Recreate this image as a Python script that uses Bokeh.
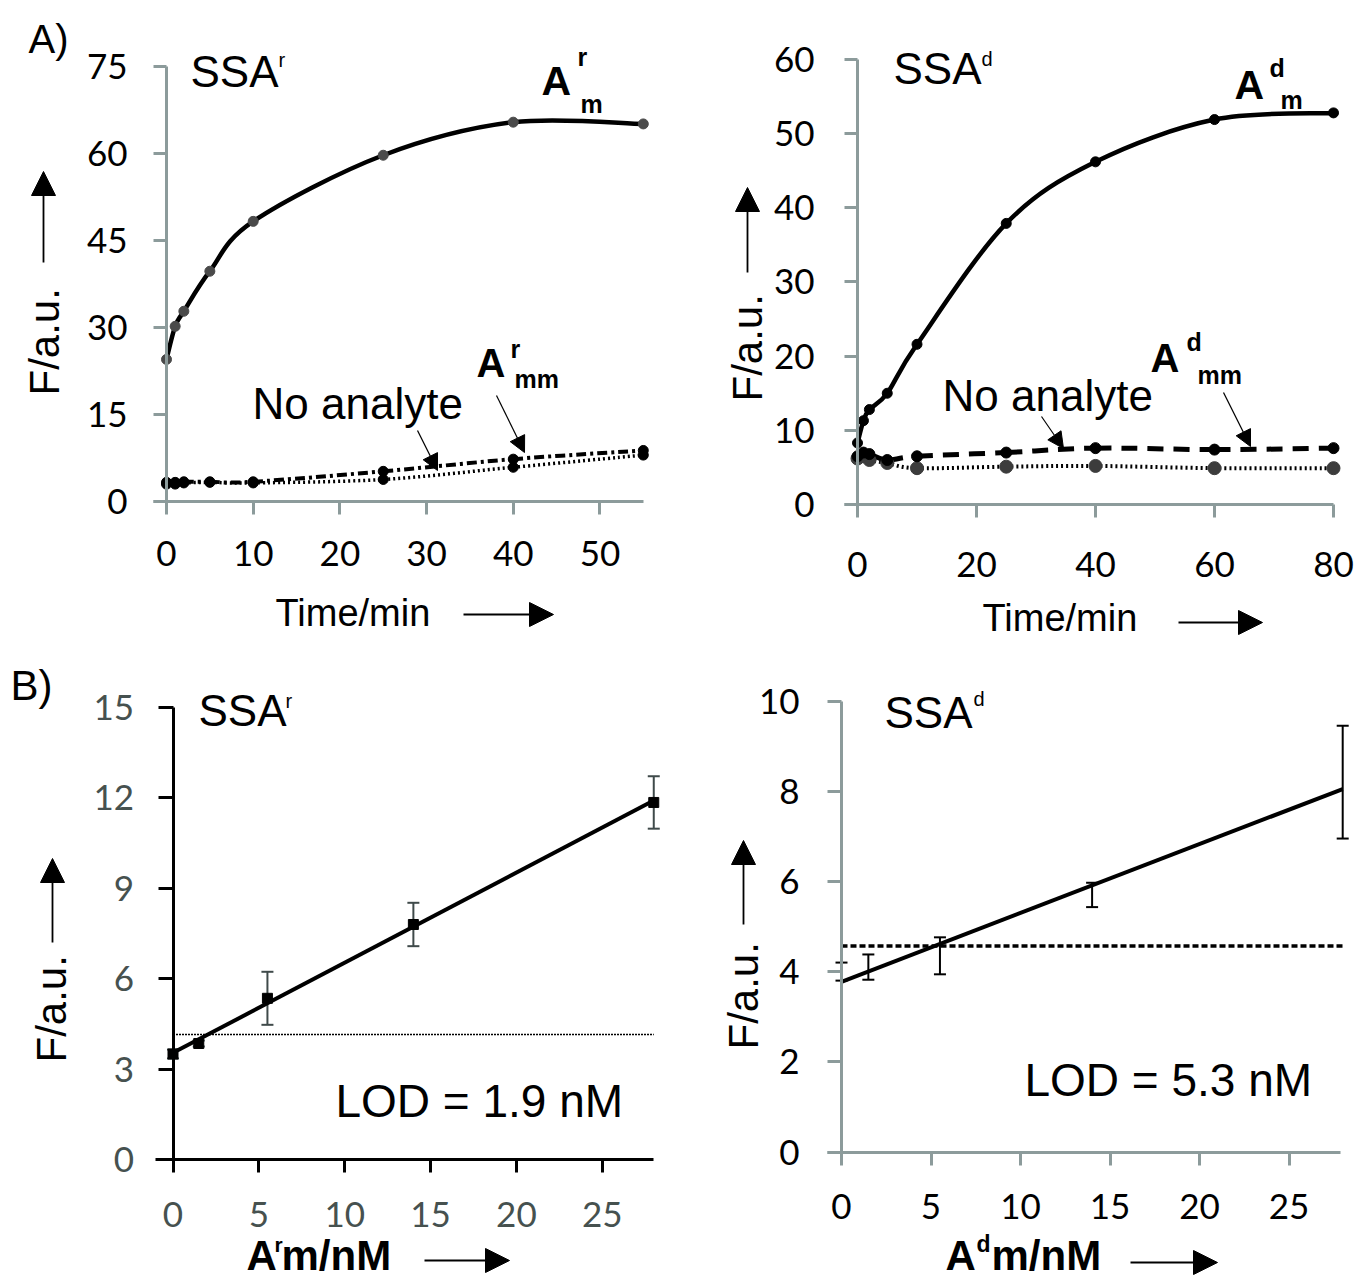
import numpy as np
from bokeh.plotting import figure
from bokeh.layouts import column, row
from bokeh.models import Label, Arrow, NormalHead, TeeHead, Range1d, Whisker, ColumnDataSource
from bokeh.embed import file_html
from bokeh.resources import INLINE

# ---------------- data ----------------
time_r = [0, 1, 2, 5, 10, 25, 40, 55]
am_r = [24.5, 30.2, 32.8, 39.7, 48.3, 59.7, 65.4, 65.1]
amm_r = [3.3, 3.3, 3.4, 3.4, 3.4, 5.2, 7.3, 8.8]
noan_r = [3.0, 3.0, 3.2, 3.3, 3.2, 3.8, 5.9, 8.0]

time_d = [0, 1, 2, 5, 10, 25, 40, 60, 80]
am_d = [8.3, 11.3, 12.8, 15.0, 21.6, 37.9, 46.2, 51.9, 52.8]
amm_d = [6.5, 7.0, 6.8, 6.0, 6.5, 7.0, 7.6, 7.4, 7.6]
noan_d = [6.2, 6.5, 6.0, 5.6, 4.9, 5.1, 5.2, 4.9, 4.9]

conc = [0, 1.5, 5.5, 14, 28]
f_r = [3.5, 3.85, 5.35, 7.8, 11.85]
err_r = [0.15, 0.1, 0.88, 0.72, 0.87]
lod_r = 4.15
f_d = [4.0, 4.1, 4.35, 5.7, 8.2]
err_d = [0.2, 0.28, 0.41, 0.27, 1.25]
lod_d = 4.57

ticks_tl_x = [0, 10, 20, 30, 40, 50]
ticks_tl_y = [0, 15, 30, 45, 60, 75]
ticks_tr_x = [0, 20, 40, 60, 80]
ticks_tr_y = [0, 10, 20, 30, 40, 50, 60]
ticks_b_x = [0, 5, 10, 15, 20, 25]
ticks_bl_y = [0, 3, 6, 9, 12, 15]
ticks_br_y = [0, 2, 4, 6, 8, 10]

GRAY = "#8c9b9b"
TXT = "Liberation Sans"
NUM = "Lato"
BASE_SHIFT = 0.36   # rendered baseline sits this fraction of the font size lower


class Panel:
    """A figure whose frame fills its whole canvas; (X0, Y0) is where data (0, 0)
    sits on the page, kx / ky are pixels per data unit."""

    def __init__(self, ox, oy, W, H, X0, Y0, kx, ky):
        self.kx, self.ky = kx, ky
        xs = (ox - X0) / kx
        xe = (ox + W - X0) / kx
        ye = (Y0 - oy) / ky
        ys = (Y0 - (oy + H)) / ky
        self.ox, self.oy, self.xs, self.ye = ox, oy, xs, ye
        self.p = figure(x_range=Range1d(xs, xe), y_range=Range1d(ys, ye),
                        frame_width=W, frame_height=H,
                        min_border_left=0, min_border_right=0,
                        min_border_top=0, min_border_bottom=0,
                        output_backend="svg", toolbar_location=None)
        p = self.p
        p.outline_line_color = None
        p.grid.visible = False
        p.background_fill_color = "white"
        p.border_fill_color = "white"

    def dx(self, px):
        return self.xs + (px - self.ox) / self.kx

    def dy(self, py):
        return self.ye - (py - self.oy) / self.ky

    def text(self, px, py, s, size, bold=False, font=TXT, vertical=False):
        if vertical:
            px = px - BASE_SHIFT * size
        else:
            py = py - BASE_SHIFT * size
        self.p.add_layout(Label(x=self.dx(px), y=self.dy(py), text=s, text_font=font,
                                text_font_size=f"{size}px",
                                text_font_style="bold" if bold else "normal",
                                text_color="black", text_align="left",
                                text_baseline="alphabetic",
                                angle=np.pi / 2 if vertical else 0.0))

    def arrow(self, x0, y0, x1, y1, head=16, lw=1.2):
        self.p.add_layout(Arrow(x_start=self.dx(x0), y_start=self.dy(y0),
                                x_end=self.dx(x1), y_end=self.dy(y1),
                                line_width=lw, line_color="black",
                                end=NormalHead(size=head, fill_color="black",
                                               line_color="black", line_width=1)))

    def axes(self, xt, yt, xbounds, axis_color, label_color, xstand, ystand, ytick):
        p = self.p
        p.xaxis.ticker = xt
        p.yaxis.ticker = yt
        p.xaxis.fixed_location = 0
        p.yaxis.fixed_location = 0
        p.xaxis.bounds = xbounds
        p.yaxis.bounds = (min(yt), max(yt))
        for ax in (p.xaxis[0], p.yaxis[0]):
            ax.axis_line_color = axis_color
            ax.axis_line_width = 3
            ax.major_tick_line_color = axis_color
            ax.major_tick_line_width = 3
            ax.major_tick_in = 0
            ax.minor_tick_line_color = None
            ax.major_label_text_font = NUM
            ax.major_label_text_font_size = "35px"
            ax.major_label_text_color = label_color
        p.xaxis.major_tick_out = 13
        p.yaxis.major_tick_out = ytick
        p.xaxis.major_label_standoff = xstand
        p.yaxis.major_label_standoff = ystand


def smooth(p, x, y, **kw):
    x = np.asarray(x, float)
    y = np.asarray(y, float)
    n = len(x)
    x0, y0, x1, y1, cx0, cy0, cx1, cy1 = [], [], [], [], [], [], [], []
    for i in range(n - 1):
        im = max(i - 1, 0)
        ip = min(i + 2, n - 1)
        x0.append(x[i]); y0.append(y[i]); x1.append(x[i + 1]); y1.append(y[i + 1])
        cx0.append(x[i] + (x[i + 1] - x[im]) / 6.0)
        cy0.append(y[i] + (y[i + 1] - y[im]) / 6.0)
        cx1.append(x[i + 1] - (x[ip] - x[i]) / 6.0)
        cy1.append(y[i + 1] - (y[ip] - y[i]) / 6.0)
    p.bezier(x0=x0, y0=y0, x1=x1, y1=y1, cx0=cx0, cy0=cy0, cx1=cx1, cy1=cy1, **kw)


# ---------------- top-left: SSA^r kinetics ----------------
tl = Panel(0, 0, 680, 640, 166, 501, 8.669, 5.8)
p = tl.p
tl.axes(ticks_tl_x, ticks_tl_y, (-1.5, 55), GRAY, "black", 26, 26, 13)
smooth(p, time_r, noan_r, line_color="black", line_width=3.5, line_dash="2 3")
smooth(p, time_r, amm_r, line_color="black", line_width=4, line_dash="10 4 3 4")
p.scatter(time_r, noan_r, size=10, color="black")
p.scatter(time_r, amm_r, size=10, color="black")
smooth(p, time_r, am_r, line_color="black", line_width=4.5)
p.scatter(time_r, am_r, size=10, color="#4a4a4a")
tl.text(28, 53, "A)", 40)
tl.text(190, 87, "SSA", 44)
tl.text(278, 67, "r", 20)
tl.text(541, 95, "A", 41, bold=True)
tl.text(577, 65, "r", 25, bold=True)
tl.text(580, 112, "m", 25, bold=True)
tl.text(252, 419, "No analyte", 44)
tl.text(476, 377, "A", 40, bold=True)
tl.text(510, 357, "r", 25, bold=True)
tl.text(514, 387, "mm", 25, bold=True)
tl.arrow(417, 430, 437, 470)
tl.arrow(496, 395, 524, 452)
tl.text(275, 626, "Time/min", 38)
tl.arrow(463, 614, 553, 614, head=24, lw=1.8)
tl.text(59, 395, "F/a.u.", 42, vertical=True)
tl.arrow(43, 262, 43, 171, head=24, lw=1.8)

# ---------------- top-right: SSA^d kinetics ----------------
tr = Panel(680, 0, 675, 640, 857, 504, 5.95, 7.417)
p = tr.p
tr.axes(ticks_tr_x, ticks_tr_y, (-2.2, 80), GRAY, "black", 34, 30, 13)
smooth(p, time_d, noan_d, line_color="black", line_width=4, line_dash="2 3")
smooth(p, time_d, amm_d, line_color="black", line_width=5, line_dash="16 10")
p.scatter(time_d, noan_d, size=13, color="#3c3c3c")
p.scatter(time_d, amm_d, size=11, color="black")
smooth(p, time_d, am_d, line_color="black", line_width=4.5)
p.scatter(time_d, am_d, size=10, color="black")
tr.text(893, 84, "SSA", 44)
tr.text(981, 66, "d", 20)
tr.text(1234, 99, "A", 41, bold=True)
tr.text(1269, 76, "d", 25, bold=True)
tr.text(1280, 108, "m", 25, bold=True)
tr.text(942, 411, "No analyte", 44)
tr.text(1150, 372, "A", 40, bold=True)
tr.text(1186, 350, "d", 25, bold=True)
tr.text(1197, 383, "mm", 25, bold=True)
tr.arrow(1041, 416, 1063, 448)
tr.arrow(1223, 392, 1250, 446)
tr.text(982, 631, "Time/min", 38)
tr.arrow(1178, 622, 1262, 622, head=24, lw=1.8)
tr.text(762, 401, "F/a.u.", 42, vertical=True)
tr.arrow(747, 272, 747, 187, head=24, lw=1.8)

# ---------------- bottom-left: SSA^r calibration ----------------
bl = Panel(0, 640, 680, 641, 172.5, 1159, 17.17, 30.13)
p = bl.p
bl.axes(ticks_b_x, ticks_bl_y, (-1, 28), "black", "#46514f", 29, 24, 15)
slope_r, icpt_r = np.polyfit(conc, f_r, 1)
xfit = [min(conc), max(conc)]
p.line(xfit, [lod_r, lod_r], line_color="black", line_width=1.5, line_dash="2 1")
src = ColumnDataSource(dict(x=conc, y=f_r, lo=np.array(f_r) - np.array(err_r),
                            hi=np.array(f_r) + np.array(err_r)))
p.add_layout(Whisker(base="x", upper="hi", lower="lo", source=src, line_color="#3f4a4a",
                     line_width=2,
                     upper_head=TeeHead(size=12, line_color="#3f4a4a", line_width=2),
                     lower_head=TeeHead(size=12, line_color="#3f4a4a", line_width=2)))
p.line(xfit, [icpt_r + slope_r * v for v in xfit], line_color="black", line_width=4)
p.scatter(conc, f_r, marker="square", size=10, color="black")
bl.text(10, 700, "B)", 42)
bl.text(198, 726, "SSA", 44)
bl.text(285, 708, "r", 20)
bl.text(335, 1117, "LOD = 1.9 nM", 46)
bl.text(66, 1062, "F/a.u.", 42, vertical=True)
bl.arrow(52, 942, 52, 858, head=24, lw=1.8)
bl.text(246, 1270, "A", 42, bold=True)
bl.text(274, 1252, "r", 21, bold=True)
bl.text(281, 1270, "m/nM", 42, bold=True)
bl.arrow(424, 1260, 509, 1260, head=24, lw=1.8)

# ---------------- bottom-right: SSA^d calibration ----------------
br = Panel(680, 640, 675, 641, 841, 1151.5, 17.9, 45.1)
p = br.p
br.axes(ticks_b_x, ticks_br_y, (-0.8, 27.9), GRAY, "black", 29, 28, 14)
slope_d, icpt_d = np.polyfit(conc, f_d, 1)
p.line(xfit, [lod_d, lod_d], line_color="black", line_width=3.5, line_dash="6 3")
src2 = ColumnDataSource(dict(x=conc, y=f_d, lo=np.array(f_d) - np.array(err_d),
                             hi=np.array(f_d) + np.array(err_d)))
p.add_layout(Whisker(base="x", upper="hi", lower="lo", source=src2, line_color="black",
                     line_width=2,
                     upper_head=TeeHead(size=12, line_color="black", line_width=2),
                     lower_head=TeeHead(size=12, line_color="black", line_width=2)))
p.line(xfit, [icpt_d + slope_d * v for v in xfit], line_color="black", line_width=4)
br.text(884, 728, "SSA", 44)
br.text(973, 706, "d", 20)
br.text(1024, 1096, "LOD = 5.3 nM", 46)
br.text(758, 1049, "F/a.u.", 42, vertical=True)
br.arrow(743, 924, 743, 840, head=24, lw=1.8)
br.text(945, 1270, "A", 42, bold=True)
br.text(976, 1252, "d", 23, bold=True)
br.text(991, 1270, "m/nM", 42, bold=True)
br.arrow(1130, 1262, 1217, 1262, head=24, lw=1.8)

layout = column(row(tl.p, tr.p), row(bl.p, br.p))
open("out.html", "w").write(file_html(layout, INLINE))
